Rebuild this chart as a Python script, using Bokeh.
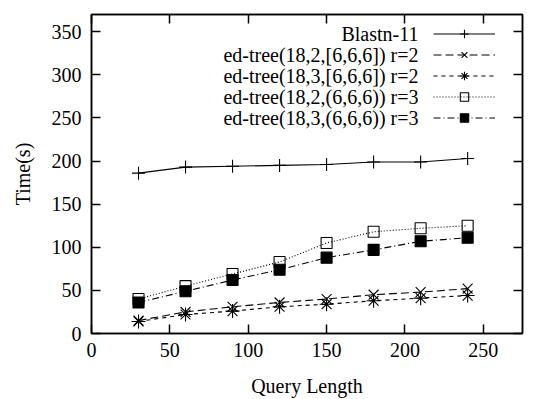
from bokeh.plotting import figure
from bokeh.models import Range1d, LinearAxis, Legend, LegendItem, FixedTicker, Label
from bokeh.embed import file_html
from bokeh.resources import INLINE

# ---- data ----
query_length = [30, 60, 90, 120, 150, 180, 210, 240]
blastn = [186, 193, 194, 195, 196, 199, 199, 203]
ed2_bracket = [15, 25, 31, 36, 40, 45, 48, 52]
ed3_bracket = [14, 22, 26, 31, 34, 38, 41, 44]
ed2_paren = [40, 55, 69, 83, 105, 118, 122, 125]
ed3_paren = [36, 49, 62, 74, 88, 97, 107, 111]
labels = ["Blastn-11", "ed-tree(18,2,[6,6,6]) r=2", "ed-tree(18,3,[6,6,6]) r=2",
          "ed-tree(18,2,(6,6,6)) r=3", "ed-tree(18,3,(6,6,6)) r=3"]
x_ticks = [0, 50, 100, 150, 200, 250]
y_ticks = [0, 50, 100, 150, 200, 250, 300, 350]

FONT = "Liberation Serif"
FS = "20px"

p = figure(width=534, height=399, output_backend="svg", toolbar_location=None,
           x_range=Range1d(0, 275), y_range=Range1d(0, 370),
           min_border_left=91, min_border_right=12, min_border_top=14, min_border_bottom=64)
p.xgrid.visible = False
p.ygrid.visible = False
p.outline_line_color = "black"
p.outline_line_width = 1.5
p.background_fill_color = "white"
p.border_fill_color = "white"

def style_axis(ax, labels_on=True):
    ax.major_tick_in = 9
    ax.major_tick_out = 0
    ax.minor_tick_line_color = None
    ax.axis_line_color = "black"
    ax.axis_line_width = 1.5
    ax.major_tick_line_width = 1.5
    ax.major_label_text_font = FONT
    ax.major_label_text_font_size = FS
    ax.major_label_text_color = "black" if labels_on else None
    ax.axis_label_text_font = FONT
    ax.axis_label_text_font_size = FS
    ax.axis_label_text_font_style = "normal"
    ax.axis_label_text_color = "black"

p.xaxis.ticker = FixedTicker(ticks=x_ticks)
p.yaxis.ticker = FixedTicker(ticks=y_ticks)
style_axis(p.xaxis[0])
style_axis(p.yaxis[0])
p.xaxis.axis_label = "Query Length"
p.yaxis.axis_label = "Time(s)"
p.xaxis.major_label_standoff = 9
p.xaxis.axis_label_standoff = 15
p.yaxis.major_label_standoff = 10
p.yaxis.axis_label_standoff = 15

top_ax = LinearAxis(ticker=FixedTicker(ticks=x_ticks))
right_ax = LinearAxis(ticker=FixedTicker(ticks=y_ticks))
style_axis(top_ax, labels_on=False)
style_axis(right_ax, labels_on=False)
p.add_layout(top_ax, "above")
p.add_layout(right_ax, "right")

lw = 1.1
r1l = p.line(query_length, blastn, line_color="black", line_width=lw)
r1s = p.scatter(query_length, blastn, marker="cross", size=13, line_color="black", line_width=1.1)

r2l = p.line(query_length, ed2_bracket, line_color="black", line_width=lw, line_dash="8 4")
r2s = p.scatter(query_length, ed2_bracket, marker="x", size=14, line_color="black", line_width=1.1)

r3l = p.line(query_length, ed3_bracket, line_color="black", line_width=lw, line_dash="4 4")
r3s = p.scatter(query_length, ed3_bracket, marker="asterisk", size=14, line_color="black", line_width=1.1)

r4l = p.line(query_length, ed2_paren, line_color="black", line_width=lw, line_dash="1 2")
r4s = p.scatter(query_length, ed2_paren, marker="square", size=11, line_color="black",
                fill_color="white", fill_alpha=0, line_width=1.1)

r5l = p.line(query_length, ed3_paren, line_color="black", line_width=lw, line_dash="7 3 1 3")
r5s = p.scatter(query_length, ed3_paren, marker="square", size=11, line_color="black",
                fill_color="black", line_width=1.1)

# legend: glyph samples via Legend (blank labels), texts as right-aligned labels to their left
rend_pairs = [(r1l, r1s), (r2l, r2s), (r3l, r3s), (r4l, r4s), (r5l, r5s)]
items = [LegendItem(label=" " * (i + 1), renderers=list(rp)) for i, rp in enumerate(rend_pairs)]
legend = Legend(items=items, location=(342, 205), orientation="vertical",
                glyph_width=62, glyph_height=21, label_height=21, label_width=1, spacing=0,
                padding=0, margin=0, label_standoff=0,
                label_text_font=FONT, label_text_font_size="6px", label_text_color=None,
                background_fill_alpha=0, border_line_color=None)
p.add_layout(legend)

row_h = 21.2
for i, lab in enumerate(labels):
    p.add_layout(Label(x=327, y=300 - i * row_h, x_units="screen", y_units="screen",
                       text=lab, text_align="right", text_baseline="middle",
                       text_font=FONT, text_font_size=FS, text_color="black"))

open("out.html", "w").write(file_html(p, INLINE))
